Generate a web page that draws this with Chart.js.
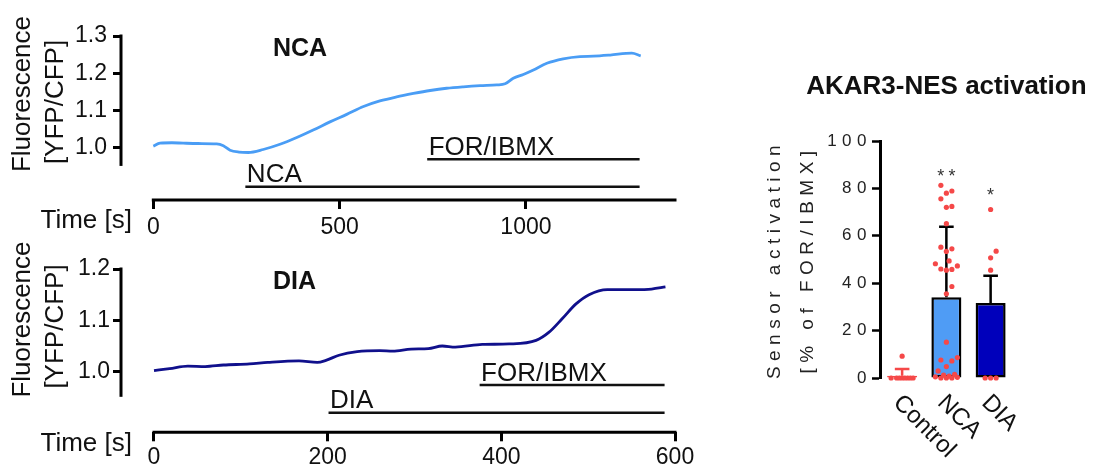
<!DOCTYPE html>
<html>
<head>
<meta charset="utf-8">
<title>AKAR3-NES activation</title>
<script src="https://cdn.jsdelivr.net/npm/chart.js@4.4.1/dist/chart.umd.min.js"></script>
<style>
  body { margin: 0; background: #fff; }
  #wrap { position: relative; width: 1101px; height: 471px; overflow: hidden; }
  canvas { position: absolute; }
</style>
</head>
<body>
<div id="wrap">
  <canvas id="ncaChart" width="700" height="240" style="left:0;top:0"></canvas>
  <canvas id="diaChart" width="700" height="231" style="left:0;top:240px"></canvas>
  <canvas id="barChart" width="361" height="471" style="left:740px;top:0"></canvas>
</div>
<script>
const FONT = '"Liberation Sans", Arial, Helvetica, sans-serif';
Chart.defaults.font.family = FONT;

// NCA trace: time [s] and YFP/CFP ratio
const ncaTime = [0, 18, 50, 80, 120, 170, 188, 206, 230, 255, 295, 340, 385, 429, 474, 519, 564, 608,
  653, 698, 743, 787, 832, 877, 922, 944, 966, 993, 1020, 1056, 1100, 1145, 1181, 1226, 1284, 1308];
const ncaRatio = [1.005, 1.013, 1.014, 1.013, 1.012, 1.011, 1.006, 0.994, 0.989, 0.988, 0.996, 1.010,
  1.028, 1.048, 1.070, 1.090, 1.111, 1.126, 1.137, 1.146, 1.154, 1.160, 1.164, 1.167, 1.169, 1.172,
  1.187, 1.197, 1.209, 1.227, 1.239, 1.245, 1.246, 1.249, 1.254, 1.247];
const ncaTicksX = [0, 500, 1000];
const ncaTicksY = [1.0, 1.1, 1.2, 1.3];
const ncaBarLabels = ['FOR/IBMX', 'NCA'];
const ncaBarStart = [735, 247];
const ncaBarEnd = [1305, 1305];
const ncaBarLevel = [0.970, 0.896];

// DIA trace
const diaTime = [0, 18, 39, 59, 80, 110, 131, 167, 188, 198, 213, 234, 260, 275, 296, 316, 332, 347,
  378, 409, 440, 455, 470, 486, 501, 522, 553, 573, 589];
const diaRatio = [1.002, 1.006, 1.011, 1.010, 1.013, 1.015, 1.018, 1.021, 1.018, 1.022, 1.032, 1.039,
  1.041, 1.040, 1.044, 1.045, 1.050, 1.048, 1.053, 1.054, 1.061, 1.077, 1.103, 1.132, 1.150, 1.160,
  1.160, 1.161, 1.165];
const diaTicksX = [0, 200, 400, 600];
const diaTicksY = [1.0, 1.1, 1.2];
const diaBarLabels = ['FOR/IBMX', 'DIA'];
const diaBarStart = [375, 201];
const diaBarEnd = [588, 588];
const diaBarLevel = [0.974, 0.920];

// AKAR3-NES activation (% of FOR/IBMX)
const groups = ['Control', 'NCA', 'DIA'];
const groupMean = [1.0, 34.1, 31.6];
const groupError = [2.8, 29.7, 11.5];
const controlPoints = [9.2, 0, 0, 0, 0, 0, 0, 0, 0];
const ncaPoints = [81.3, 78.9, 78.0, 75.6, 72.4, 72.0, 65.1, 55.2, 54.5, 53.4, 49.4, 48.2, 47.3, 46.0,
  45.8, 45.5, 38.6, 35.5, 15.1, 8.6, 7.6, 7.2, 4.8, 3.0, 1.5, 1.2, 0.8, 0.5, 0.3, 0, 0, 0];
const diaPoints = [71.1, 53.5, 50.7, 45.5, 0, 0, 0];
const significance = ['', '**', '*'];
const significanceAt = [null, 86.8, 78.7];

const RED = '#f54848';

// draws the detached axes and the texts round a trace panel
function makeDecor(o) {
  return {
    id: 'decor',
    afterDraw(chart) {
      const {ctx, chartArea} = chart;
      const x = chart.scales.x, y = chart.scales.y;
      ctx.save();
      ctx.strokeStyle = '#000';
      ctx.lineWidth = 3;
      ctx.beginPath();
      ctx.moveTo(chartArea.left, y.getPixelForValue(o.yAxisFrom));
      ctx.lineTo(chartArea.left, chartArea.top - 1.5);
      ctx.stroke();
      ctx.beginPath();
      ctx.moveTo(x.getPixelForValue(o.ticksX[0]) - 1.5, chartArea.bottom);
      ctx.lineTo(x.getPixelForValue(o.xMax) + 1.5, chartArea.bottom);
      ctx.stroke();

      ctx.fillStyle = '#111';
      ctx.textBaseline = 'alphabetic';
      ctx.textAlign = 'left';
      ctx.font = '26px ' + FONT;
      o.barLabels.forEach((lab, i) => {
        ctx.fillText(lab, x.getPixelForValue(o.barStart[i]) + 1.5, y.getPixelForValue(o.barLevel[i]) - 4.5);
      });
      ctx.font = 'bold 25px ' + FONT;
      ctx.fillText(o.title, chartArea.left + 152, chartArea.top + 19.5);

      ctx.font = '26px ' + FONT;
      ctx.textAlign = 'right';
      ctx.fillText('Time [s]', chartArea.left + 11, chartArea.bottom + o.timeOffset);

      ctx.textAlign = 'center';
      ctx.save();
      ctx.translate(29.5, chartArea.top + o.fluoCenter[0]);
      ctx.rotate(-Math.PI / 2);
      ctx.fillText('Fluorescence', 0, 0);
      ctx.restore();
      ctx.save();
      ctx.translate(63, chartArea.top + o.fluoCenter[1]);
      ctx.rotate(-Math.PI / 2);
      ctx.fillText('[YFP/CFP]', 0, 0);
      ctx.restore();
      ctx.restore();
    }
  };
}

function traceChart(id, o) {
  const datasets = [{
    data: o.time.map((t, i) => ({x: t, y: o.ratio[i]})),
    borderColor: o.color,
    borderWidth: 2.8,
    pointRadius: 0,
    cubicInterpolationMode: 'monotone'
  }];
  o.barLabels.forEach((lab, i) => {
    datasets.push({
      data: [{x: o.barStart[i], y: o.barLevel[i]}, {x: o.barEnd[i], y: o.barLevel[i]}],
      borderColor: '#111',
      borderWidth: 2.5,
      pointRadius: 0
    });
  });
  return new Chart(document.getElementById(id), {
    type: 'line',
    data: {datasets: datasets},
    options: {
      responsive: false,
      animation: false,
      layout: {padding: {top: o.padTop, right: 25, left: 0, bottom: 0}},
      plugins: {legend: {display: false}, tooltip: {enabled: false}},
      scales: {
        x: {
          type: 'linear',
          min: o.xMin,
          max: o.xMax,
          afterBuildTicks: s => { s.ticks = o.ticksX.map(v => ({value: v})); },
          afterFit: s => { s.height = o.xHeight; },
          border: {display: false},
          grid: {drawOnChartArea: false, tickLength: 9, tickWidth: 3, tickColor: '#000'},
          ticks: {font: {size: 23}, color: '#111', padding: o.xPad, maxRotation: 0, callback: v => String(v)}
        },
        y: {
          min: o.yMin,
          max: o.yMax,
          afterBuildTicks: s => { s.ticks = o.ticksY.map(v => ({value: v})); },
          afterFit: s => { s.width = 121; },
          border: {display: false},
          grid: {drawOnChartArea: false, tickLength: 8, tickWidth: 3, tickColor: '#000'},
          ticks: {font: {size: 23}, color: '#111', padding: o.yPad, callback: v => v.toFixed(1)}
        }
      }
    },
    plugins: [makeDecor(o)]
  });
}

traceChart('ncaChart', {
  time: ncaTime, ratio: ncaRatio, color: '#4a9df5', title: 'NCA',
  ticksX: ncaTicksX, ticksY: ncaTicksY,
  barLabels: ncaBarLabels, barStart: ncaBarStart, barEnd: ncaBarEnd, barLevel: ncaBarLevel,
  xMin: -86.7, xMax: 1400, yMin: 0.8607, yMax: 1.3, yAxisFrom: 0.952,
  padTop: 36, xHeight: 40, xPad: 5, yPad: 6, timeOffset: 27.8, fluoCenter: [58, 66]
});

traceChart('diaChart', {
  time: diaTime, ratio: diaRatio, color: '#10108c', title: 'DIA',
  ticksX: diaTicksX, ticksY: diaTicksY,
  barLabels: diaBarLabels, barStart: diaBarStart, barEnd: diaBarEnd, barLevel: diaBarLevel,
  xMin: -38, xMax: 600, yMin: 0.8819, yMax: 1.2, yAxisFrom: 0.951,
  padTop: 29, xHeight: 38.7, xPad: 3, yPad: 3, timeOffset: 18.9, fluoCenter: [50.5, 57.5]
});

// spread the dots of one group sideways (at most 11 px) so that they overlap little
function swarm(values, group) {
  const placed = [];
  return values.slice().sort((a, b) => a - b).map(v => {
    const py = v * 2.37;
    let best = 0, bestScore = -1;
    for (let k = 0; k <= 8; k++) {
      const off = (k % 2 ? 1 : -1) * Math.ceil(k / 2) * 2.75;
      const score = placed.reduce((m, p) => Math.min(m, ((p.x - off) / 5.5) ** 2 + ((p.y - py) / 10) ** 2), Infinity);
      if (score >= 0.999) { best = off; bestScore = score; break; }
      if (score > bestScore) { best = off; bestScore = score; }
    }
    placed.push({x: best, y: py});
    return {x: group + best / 44.25, y: v};
  });
}

const barDecor = {
  id: 'barDecor',
  beforeDraw(chart) {
    chart.ctx.letterSpacing = '5.5px';
  },
  afterDatasetDraw(chart, args) {
    if (args.index !== 0) return;
    const {ctx} = chart;
    const x = chart.scales.x, y = chart.scales.y;
    ctx.save();
    ctx.lineWidth = 2.5;
    groups.forEach((g, i) => {
      const cx = x.getPixelForValue(i);
      const y0 = y.getPixelForValue(groupMean[i]);
      const y1 = y.getPixelForValue(groupMean[i] + groupError[i]);
      ctx.strokeStyle = i === 0 ? RED : '#000';
      ctx.beginPath();
      ctx.moveTo(cx, y0);
      ctx.lineTo(cx, y1);
      ctx.moveTo(cx - 7.3, y1);
      ctx.lineTo(cx + 7.3, y1);
      ctx.stroke();
    });
    ctx.restore();
  },
  afterDraw(chart) {
    const {ctx, chartArea} = chart;
    const x = chart.scales.x, y = chart.scales.y;
    ctx.save();
    ctx.letterSpacing = '0px';
    ctx.fillStyle = '#111';
    ctx.textBaseline = 'alphabetic';
    ctx.textAlign = 'center';
    ctx.font = 'bold 26px ' + FONT;
    ctx.fillText('AKAR3-NES activation', (chartArea.left + chartArea.right) / 2, chartArea.top - 47.5);

    ctx.font = '24px ' + FONT;
    ctx.textAlign = 'left';
    groups.forEach((g, i) => {
      ctx.save();
      ctx.translate(x.getPixelForValue(i) - 10, chartArea.bottom + 25.7);
      ctx.rotate(Math.PI / 4);
      ctx.fillText(g, 0, 0);
      ctx.restore();
    });

    ctx.font = '18px ' + FONT;
    ctx.fillStyle = '#333';
    ctx.textAlign = 'center';
    ctx.letterSpacing = '4.4px';
    significance.forEach((s, i) => {
      if (!s) return;
      ctx.fillText(s, x.getPixelForValue(i) + 2.2, y.getPixelForValue(significanceAt[i]) + 10);
    });
    ctx.restore();
    ctx.letterSpacing = '0px';
  }
};

const dotStyle = {
  type: 'scatter',
  order: 1,
  clip: false,
  pointRadius: 2.6,
  pointBorderWidth: 0,
  pointBackgroundColor: RED,
  showLine: false
};

new Chart(document.getElementById('barChart'), {
  type: 'bar',
  data: {
    datasets: [
      {
        data: groups.map((g, i) => ({x: i, y: groupMean[i]})),
        order: 2,
        grouped: false,
        backgroundColor: [RED, '#4f9cf5', '#0000bb'],
        borderColor: [RED, '#000', '#000'],
        borderWidth: 2.5,
        borderSkipped: false,
        barPercentage: 0.678,
        categoryPercentage: 1
      },
      Object.assign({data: swarm(controlPoints, 0)}, dotStyle),
      Object.assign({data: swarm(ncaPoints, 1)}, dotStyle),
      Object.assign({data: swarm(diaPoints, 2)}, dotStyle)
    ]
  },
  options: {
    responsive: false,
    animation: false,
    layout: {padding: {top: 141, right: 88.25, left: 0, bottom: 0}},
    plugins: {legend: {display: false}, tooltip: {enabled: false}},
    scales: {
      x: {
        type: 'linear',
        min: -0.5,
        max: 2.5,
        offset: false,
        afterFit: s => { s.height = 93; },
        border: {display: false},
        grid: {display: false},
        ticks: {display: false}
      },
      y: {
        min: 0,
        max: 100,
        afterFit: s => { s.width = 140; },
        border: {display: true, width: 3, color: '#000'},
        grid: {drawOnChartArea: false, tickLength: 8, tickWidth: 2.5, tickColor: '#000'},
        ticks: {stepSize: 20, font: {size: 17}, color: '#222', padding: 0},
        title: {
          display: true,
          text: ['Sensor activation', '[% of FOR/IBMX]'],
          font: {size: 19, lineHeight: 1.71},
          color: '#222',
          padding: {top: 18.75}
        }
      }
    }
  },
  plugins: [barDecor]
});
</script>
</body>
</html>
